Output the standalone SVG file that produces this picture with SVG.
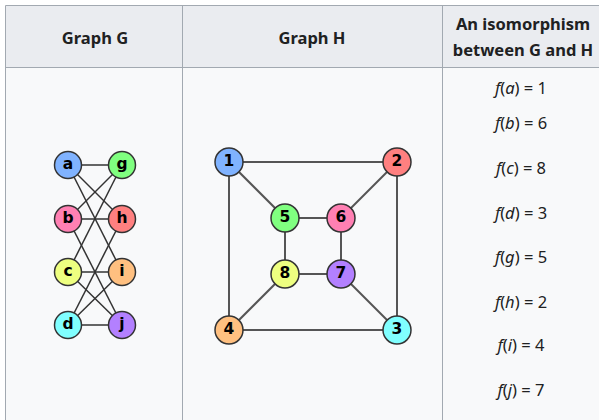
<svg xmlns="http://www.w3.org/2000/svg" width="599" height="420" viewBox="0 0 599 420">
<style>
.hd{font-family:"Noto Sans","Open Sans",sans-serif;font-size:16.5px;font-weight:bold;fill:#202122;text-anchor:middle}
.fx{font-family:"Noto Sans","Open Sans",sans-serif;font-size:16.5px;fill:#202122;text-anchor:middle}
.e{stroke:#333;stroke-width:1.5;fill:none}
.eh{stroke:#555;stroke-width:2;fill:none}
.n circle{stroke:#333;stroke-width:1.5}
.n text{font-family:"DejaVu Sans",sans-serif;font-size:15.5px;font-weight:bold;fill:#000;text-anchor:middle;dominant-baseline:central}
</style>
<rect x="0" y="0" width="599" height="420" fill="#fff"/>
<rect x="6" y="6" width="600" height="420" fill="#f8f9fa"/>
<rect x="6" y="6" width="600" height="61" fill="#eaecf0"/>
<g stroke="#a2a9b1" stroke-width="1">
<line x1="5.5" y1="5.5" x2="599" y2="5.5"/>
<line x1="5.5" y1="5.5" x2="5.5" y2="420"/>
<line x1="5.5" y1="67.5" x2="599" y2="67.5"/>
<line x1="182.5" y1="5.5" x2="182.5" y2="420"/>
<line x1="442.5" y1="5.5" x2="442.5" y2="420"/>
</g>
<text class="hd" x="95" y="44">Graph G</text>
<text class="hd" x="312" y="44">Graph H</text>
<text class="hd" x="523" y="30">An isomorphism</text>
<text class="hd" x="523" y="56">between G and H</text>
<g id="mapping">
<text class="fx" x="521" y="94"><tspan font-style="italic">f</tspan>(<tspan font-style="italic">a</tspan>) = 1</text>
<text class="fx" x="521" y="129"><tspan font-style="italic">f</tspan>(<tspan font-style="italic">b</tspan>) = 6</text>
<text class="fx" x="521" y="174"><tspan font-style="italic">f</tspan>(<tspan font-style="italic">c</tspan>) = 8</text>
<text class="fx" x="521" y="219"><tspan font-style="italic">f</tspan>(<tspan font-style="italic">d</tspan>) = 3</text>
<text class="fx" x="521" y="263"><tspan font-style="italic">f</tspan>(<tspan font-style="italic">g</tspan>) = 5</text>
<text class="fx" x="521" y="308"><tspan font-style="italic">f</tspan>(<tspan font-style="italic">h</tspan>) = 2</text>
<text class="fx" x="521" y="351"><tspan font-style="italic">f</tspan>(<tspan font-style="italic">i</tspan>) = 4</text>
<text class="fx" x="521" y="396"><tspan font-style="italic">f</tspan>(<tspan font-style="italic">j</tspan>) = 7</text>
</g>
<g id="connectors">
<g class="e">
<line x1="68" y1="165" x2="122" y2="165"/>
<line x1="68" y1="165" x2="122" y2="219"/>
<line x1="68" y1="165" x2="122" y2="272"/>
<line x1="68" y1="219" x2="122" y2="165"/>
<line x1="68" y1="219" x2="122" y2="219"/>
<line x1="68" y1="219" x2="122" y2="325"/>
<line x1="68" y1="272" x2="122" y2="165"/>
<line x1="68" y1="272" x2="122" y2="272"/>
<line x1="68" y1="272" x2="122" y2="325"/>
<line x1="68" y1="325" x2="122" y2="219"/>
<line x1="68" y1="325" x2="122" y2="272"/>
<line x1="68" y1="325" x2="122" y2="325"/>
</g>
<g class="eh">
<line x1="229" y1="162" x2="397" y2="162"/>
<line x1="229" y1="162" x2="229" y2="330"/>
<line x1="229" y1="162" x2="285" y2="218"/>
<line x1="397" y1="162" x2="397" y2="330"/>
<line x1="397" y1="162" x2="341" y2="218"/>
<line x1="229" y1="330" x2="397" y2="330"/>
<line x1="397" y1="330" x2="341" y2="274"/>
<line x1="229" y1="330" x2="285" y2="274"/>
<line x1="285" y1="218" x2="341" y2="218"/>
<line x1="285" y1="218" x2="285" y2="274"/>
<line x1="341" y1="218" x2="341" y2="274"/>
<line x1="285" y1="274" x2="341" y2="274"/>
</g>
</g>
<g id="node-a" class="n"><circle cx="68" cy="165" r="13.5" fill="#80b3ff"/><text x="68" y="164">a</text></g>
<g id="node-b" class="n"><circle cx="68" cy="219" r="13.5" fill="#ff80b3"/><text x="68" y="218">b</text></g>
<g id="node-c" class="n"><circle cx="68" cy="272" r="13.5" fill="#eeff80"/><text x="68" y="271">c</text></g>
<g id="node-d" class="n"><circle cx="68" cy="325" r="13.5" fill="#80ffff"/><text x="68" y="324">d</text></g>
<g id="node-g" class="n"><circle cx="122" cy="165" r="13.5" fill="#80ff80"/><text x="122" y="164">g</text></g>
<g id="node-h" class="n"><circle cx="122" cy="219" r="13.5" fill="#ff8080"/><text x="122" y="218">h</text></g>
<g id="node-i" class="n"><circle cx="122" cy="272" r="13.5" fill="#ffc080"/><text x="122" y="271">i</text></g>
<g id="node-j" class="n"><circle cx="122" cy="325" r="13.5" fill="#b380ff"/><text x="122" y="324">j</text></g>
<g id="node-1" class="n"><circle cx="229" cy="162" r="14" fill="#80b3ff"/><text x="229" y="161">1</text></g>
<g id="node-2" class="n"><circle cx="397" cy="162" r="14" fill="#ff8080"/><text x="397" y="161">2</text></g>
<g id="node-3" class="n"><circle cx="397" cy="330" r="14" fill="#80ffff"/><text x="397" y="329">3</text></g>
<g id="node-4" class="n"><circle cx="229" cy="330" r="14" fill="#ffc080"/><text x="229" y="329">4</text></g>
<g id="node-5" class="n"><circle cx="285" cy="218" r="14" fill="#80ff80"/><text x="285" y="217">5</text></g>
<g id="node-6" class="n"><circle cx="341" cy="218" r="14" fill="#ff80b3"/><text x="341" y="217">6</text></g>
<g id="node-7" class="n"><circle cx="341" cy="274" r="14" fill="#b380ff"/><text x="341" y="273">7</text></g>
<g id="node-8" class="n"><circle cx="285" cy="274" r="14" fill="#eeff80"/><text x="285" y="273">8</text></g>
</svg>
